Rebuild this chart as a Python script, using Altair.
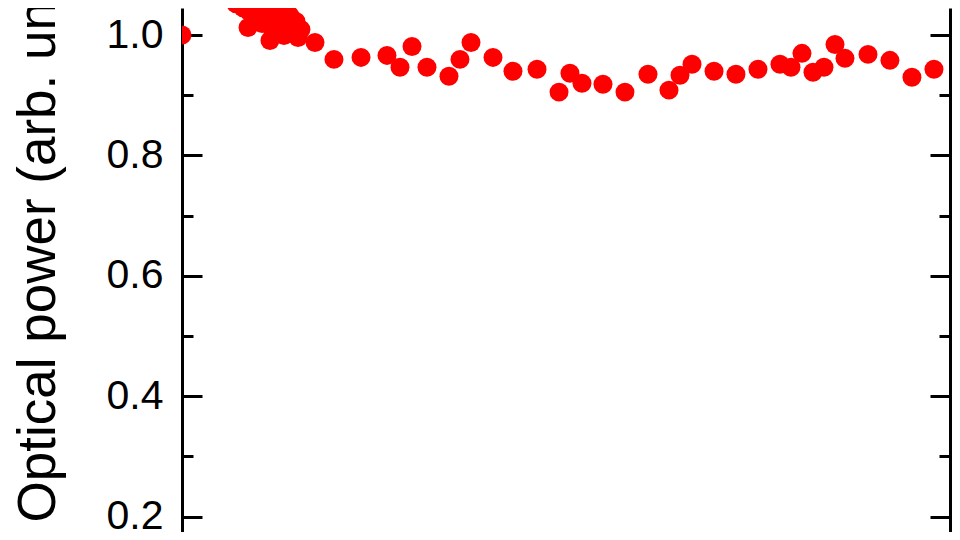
import altair as alt
import pandas as pd

# time (arbitrary units, axis not visible in the crop) and normalised optical power
time_h = [0.0, 6.97, 7.87, 8.65, 8.52, 9.42, 9.94, 10.32, 10.84, 11.35, 11.74,
          12.26, 12.77, 13.16, 13.55, 13.94, 14.32, 14.71, 14.97, 15.35, 17.16,
          19.61, 23.10, 26.45, 28.13, 29.68, 31.61, 34.45, 35.87, 37.29, 40.13,
          42.71, 45.81, 48.65, 50.06, 51.61, 54.32, 57.16, 60.13, 62.84, 64.26,
          65.81, 68.65, 71.48, 74.32, 77.16, 78.58, 80.00, 81.42, 82.84, 84.26,
          85.55, 88.52, 91.35, 94.19, 97.03]
power = [1.000, 1.052, 1.0454, 1.0388, 1.0124, 1.0289, 1.0487, 1.019, 1.0355, 0.9909, 1.0058,
         1.0256, 1.0421, 0.9992, 1.0157, 1.0322, 1.0025, 1.0223, 0.9959, 1.0091, 0.9876,
         0.9595, 0.9628, 0.9661, 0.9463, 0.981, 0.9463, 0.9315, 0.9595, 0.9876, 0.9628,
         0.9397, 0.943, 0.9051, 0.9364, 0.9199, 0.9183, 0.9051, 0.9348, 0.9084, 0.9331,
         0.9513, 0.9397, 0.9348, 0.943, 0.9513, 0.9463, 0.9695, 0.9381, 0.9463, 0.9843,
         0.9612, 0.9678, 0.9579, 0.9298, 0.943]

label_values = [0.2, 0.4, 0.6, 0.8, 1.0]
tick_values = [0.2, 0.3, 0.4, 0.5, 0.6, 0.7, 0.8, 0.9, 1.0]

df = pd.DataFrame({"t": time_h, "p": power})

W, H = 768, 524
y_domain = [0.17425, 1.04486]
x_domain = [0, 99.1]
FONT = "Liberation Sans"

x_enc = alt.X("t:Q", scale=alt.Scale(domain=x_domain, nice=False, zero=False), axis=None)


def y_enc(axis):
    return alt.Y("p:Q", scale=alt.Scale(domain=y_domain, nice=False, zero=False), axis=axis)


tick_size = {"condition": {"test": "round(datum.value * 10) % 2 == 0", "value": 20}, "value": 11}

base = alt.Chart(df)

points = base.mark_circle(size=360, color="#ff0000", opacity=1, clip=True).encode(
    x=x_enc,
    y=y_enc(alt.Axis(
        orient="left", values=label_values, format=".1f",
        ticks=False, tickSize=0, grid=False,
        domain=True, domainColor="black", domainWidth=3,
        labelFont=FONT, labelFontSize=41, labelColor="black", labelPadding=19,
        title="Optical power (arb. units)", titleFont=FONT, titleFontSize=53,
        titleFontWeight="normal", titleColor="black", titleAngle=270,
        titleAlign="left", titleBaseline="alphabetic", titleX=-128, titleY=514,
    )),
)

left_ticks = base.mark_point(opacity=0).encode(
    x=x_enc,
    y=y_enc(alt.Axis(
        orient="right", offset=-W, values=tick_values, labels=False,
        domain=False, grid=False, ticks=True, tickSize=tick_size,
        tickWidth=3, tickColor="black", title=None,
    )),
)

right_ticks = base.mark_point(opacity=0).encode(
    x=x_enc,
    y=y_enc(alt.Axis(
        orient="left", offset=-W, values=tick_values, labels=False,
        domain=True, domainColor="black", domainWidth=3,
        grid=False, ticks=True, tickSize=tick_size,
        tickWidth=3, tickColor="black", title=None,
    )),
)

chart = alt.layer(points, left_ticks, right_ticks).resolve_axis(y="independent").properties(
    width=W, height=H,
    autosize=alt.AutoSizeParams(type="none"),
    padding={"left": 174, "top": 0, "right": 2, "bottom": 0},
    background="white",
).configure_view(stroke=None)

chart.save("out.html", embed_options={"renderer": "svg", "actions": False})
